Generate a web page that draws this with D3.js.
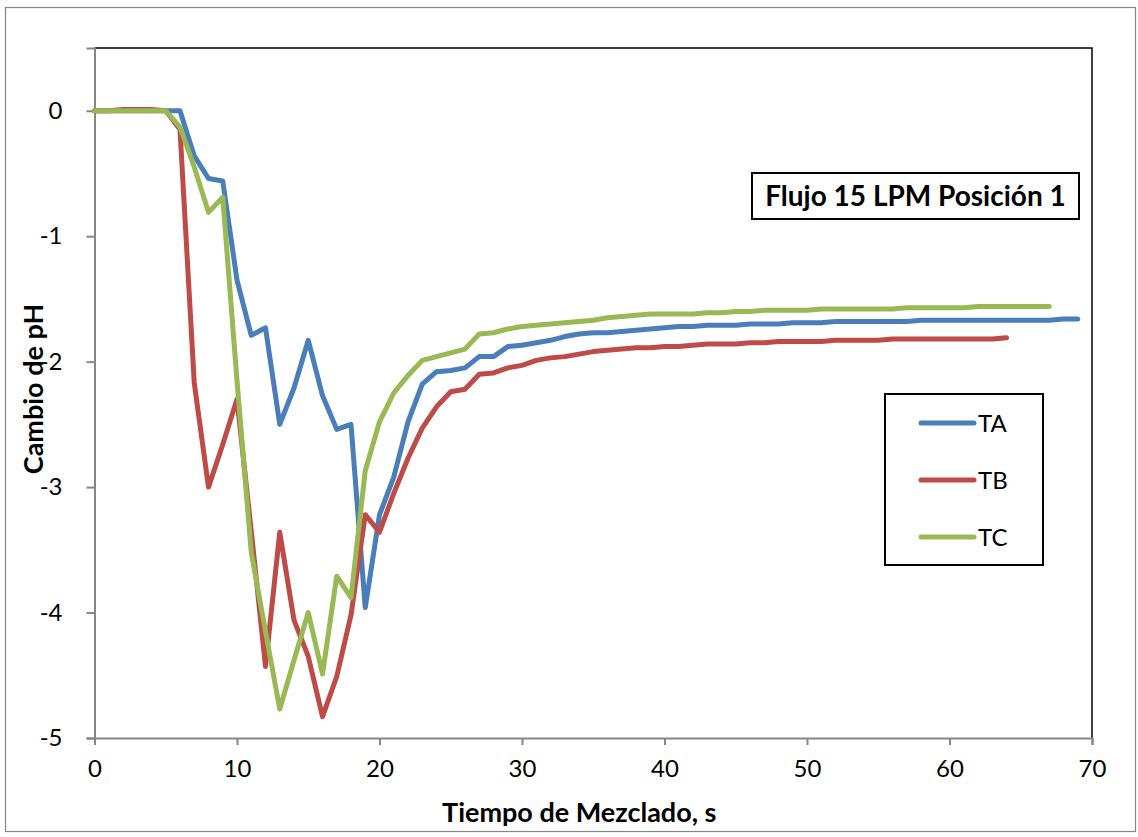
<!DOCTYPE html>
<html>
<head>
<meta charset="utf-8">
<script src="https://cdn.jsdelivr.net/npm/d3@7"></script>
<style>
  html, body { margin: 0; padding: 0; background: #fff; }
  svg { display: block; font-family: Lato, "Open Sans", sans-serif; }
</style>
</head>
<body>
<svg id="chart" width="1138" height="837"></svg>
<script>
// Mixing time (s) vs. pH change, three probes
const timeTA = d3.range(0, 70);   // 0..69 s
const timeTB = d3.range(0, 65);   // 0..64 s
const timeTC = d3.range(0, 68);   // 0..67 s

const valuesTA = [
  0, 0, 0, 0, 0, 0, 0, -0.36, -0.54, -0.56,
  -1.35, -1.79, -1.73, -2.50, -2.21, -1.83, -2.27, -2.54, -2.50, -3.96,
  -3.22, -2.92, -2.48, -2.18, -2.08, -2.07, -2.05, -1.96, -1.96, -1.88,
  -1.87, -1.85, -1.83, -1.80, -1.78, -1.77, -1.77, -1.76, -1.75, -1.74,
  -1.73, -1.72, -1.72, -1.71, -1.71, -1.71, -1.70, -1.70, -1.70, -1.69,
  -1.69, -1.69, -1.68, -1.68, -1.68, -1.68, -1.68, -1.68, -1.67, -1.67,
  -1.67, -1.67, -1.67, -1.67, -1.67, -1.67, -1.67, -1.67, -1.66, -1.66
];

const valuesTB = [
  0, 0, 0.01, 0.01, 0.01, 0, -0.15, -2.17, -3.00, -2.66,
  -2.30, -3.35, -4.43, -3.36, -4.06, -4.35, -4.83, -4.51, -4.02, -3.22,
  -3.36, -3.05, -2.77, -2.53, -2.36, -2.24, -2.22, -2.10, -2.09, -2.05,
  -2.03, -1.99, -1.97, -1.96, -1.94, -1.92, -1.91, -1.90, -1.89, -1.89,
  -1.88, -1.88, -1.87, -1.86, -1.86, -1.86, -1.85, -1.85, -1.84, -1.84,
  -1.84, -1.84, -1.83, -1.83, -1.83, -1.83, -1.82, -1.82, -1.82, -1.82,
  -1.82, -1.82, -1.82, -1.82, -1.81
];

const valuesTC = [
  0, 0, 0, 0, 0, 0, -0.13, -0.45, -0.81, -0.69,
  -2.15, -3.52, -4.15, -4.77, -4.38, -4.00, -4.49, -3.71, -3.88, -2.87,
  -2.48, -2.25, -2.11, -1.99, -1.96, -1.93, -1.90, -1.78, -1.77, -1.74,
  -1.72, -1.71, -1.70, -1.69, -1.68, -1.67, -1.65, -1.64, -1.63, -1.62,
  -1.62, -1.62, -1.62, -1.61, -1.61, -1.60, -1.60, -1.59, -1.59, -1.59,
  -1.59, -1.58, -1.58, -1.58, -1.58, -1.58, -1.58, -1.57, -1.57, -1.57,
  -1.57, -1.57, -1.56, -1.56, -1.56, -1.56, -1.56, -1.56
];

const seriesNames = ["TA", "TB", "TC"];
const seriesColors = ["#4a7ebb", "#be4b48", "#98b954"];
const xTicks = [0, 10, 20, 30, 40, 50, 60, 70];
const yTicks = [0, -1, -2, -3, -4, -5];
const chartTitle = "Flujo 15 LPM Posición 1";
const xTitle = "Tiempo de Mezclado, s";
const yTitle = "Cambio de pH";

const series = [
  { name: seriesNames[0], color: seriesColors[0], pts: timeTA.map((t, i) => [t, valuesTA[i]]) },
  { name: seriesNames[1], color: seriesColors[1], pts: timeTB.map((t, i) => [t, valuesTB[i]]) },
  { name: seriesNames[2], color: seriesColors[2], pts: timeTC.map((t, i) => [t, valuesTC[i]]) }
];

const svg = d3.select("#chart");
const plot = { left: 94.5, right: 1092, top: 48, bottom: 738 };

const x = d3.scaleLinear().domain([0, 70]).range([plot.left, plot.right]);
const y = d3.scaleLinear().domain([-5, 0.5]).range([plot.bottom, plot.top]);

// outer chart frame
svg.append("rect")
  .attr("x", 5.5).attr("y", 7.5).attr("width", 1130).attr("height", 824)
  .attr("fill", "#fff").attr("stroke", "#868686").attr("stroke-width", 1.2);

// top and right edges of the plot area
svg.append("path")
  .attr("d", `M${plot.left},${plot.top}H${plot.right}V${plot.bottom}`)
  .attr("fill", "none").attr("stroke", "#000").attr("stroke-width", 1.5);

// axes
const xAxis = svg.append("g")
  .attr("transform", `translate(0,${plot.bottom})`)
  .call(d3.axisBottom(x).tickValues(xTicks).tickSize(7).tickPadding(15).tickFormat(d3.format("d")));
const yAxis = svg.append("g")
  .attr("transform", `translate(${plot.left},0)`)
  .call(d3.axisLeft(y).tickValues(yTicks).tickSize(8).tickPadding(24).tickFormat(d => d === 0 ? "0" : "-" + Math.abs(d)));

[xAxis, yAxis].forEach(a => {
  a.select(".domain").attr("stroke", "#868686").attr("stroke-width", 2);
  a.selectAll(".tick line").attr("stroke", "#868686").attr("stroke-width", 2);
  a.selectAll(".tick text").attr("fill", "#000").attr("font-size", 24)
    .attr("font-family", "Lato, 'Open Sans', sans-serif");
});

// data lines
const line = d3.line().x(d => x(d[0])).y(d => y(d[1]));
svg.append("g").selectAll("path")
  .data(series)
  .join("path")
  .attr("d", d => line(d.pts))
  .attr("fill", "none")
  .attr("stroke", d => d.color)
  .attr("stroke-width", 5)
  .attr("stroke-linejoin", "round")
  .attr("stroke-linecap", "round");

// axis titles
svg.append("text")
  .attr("x", (plot.left + plot.right) / 2 - 14).attr("y", 822)
  .attr("text-anchor", "middle").attr("font-size", 27).attr("font-weight", "bold")
  .text(xTitle);
svg.append("text")
  .attr("transform", `translate(43,${(plot.top + plot.bottom) / 2 - 4}) rotate(-90)`)
  .attr("text-anchor", "middle").attr("font-size", 27).attr("font-weight", "bold")
  .text(yTitle);

// title box
const tb = svg.append("g").attr("transform", "translate(752,173)");
tb.append("rect").attr("width", 327).attr("height", 46)
  .attr("fill", "#fff").attr("stroke", "#000").attr("stroke-width", 2);
tb.append("text").attr("x", 163.5).attr("y", 33)
  .attr("text-anchor", "middle").attr("font-size", 28).attr("font-weight", "bold")
  .text(chartTitle);

// legend
const lg = svg.append("g").attr("transform", "translate(885,394)");
lg.append("rect").attr("width", 158).attr("height", 171)
  .attr("fill", "#fff").attr("stroke", "#000").attr("stroke-width", 2);
const rows = lg.selectAll("g.row").data(series).join("g")
  .attr("class", "row")
  .attr("transform", (d, i) => `translate(0,${29 + i * 57})`);
rows.append("line").attr("x1", 36).attr("x2", 89)
  .attr("stroke", d => d.color).attr("stroke-width", 5).attr("stroke-linecap", "round");
rows.append("text").attr("x", 93).attr("y", 9)
  .attr("font-size", 24).text(d => d.name);
</script>
</body>
</html>
